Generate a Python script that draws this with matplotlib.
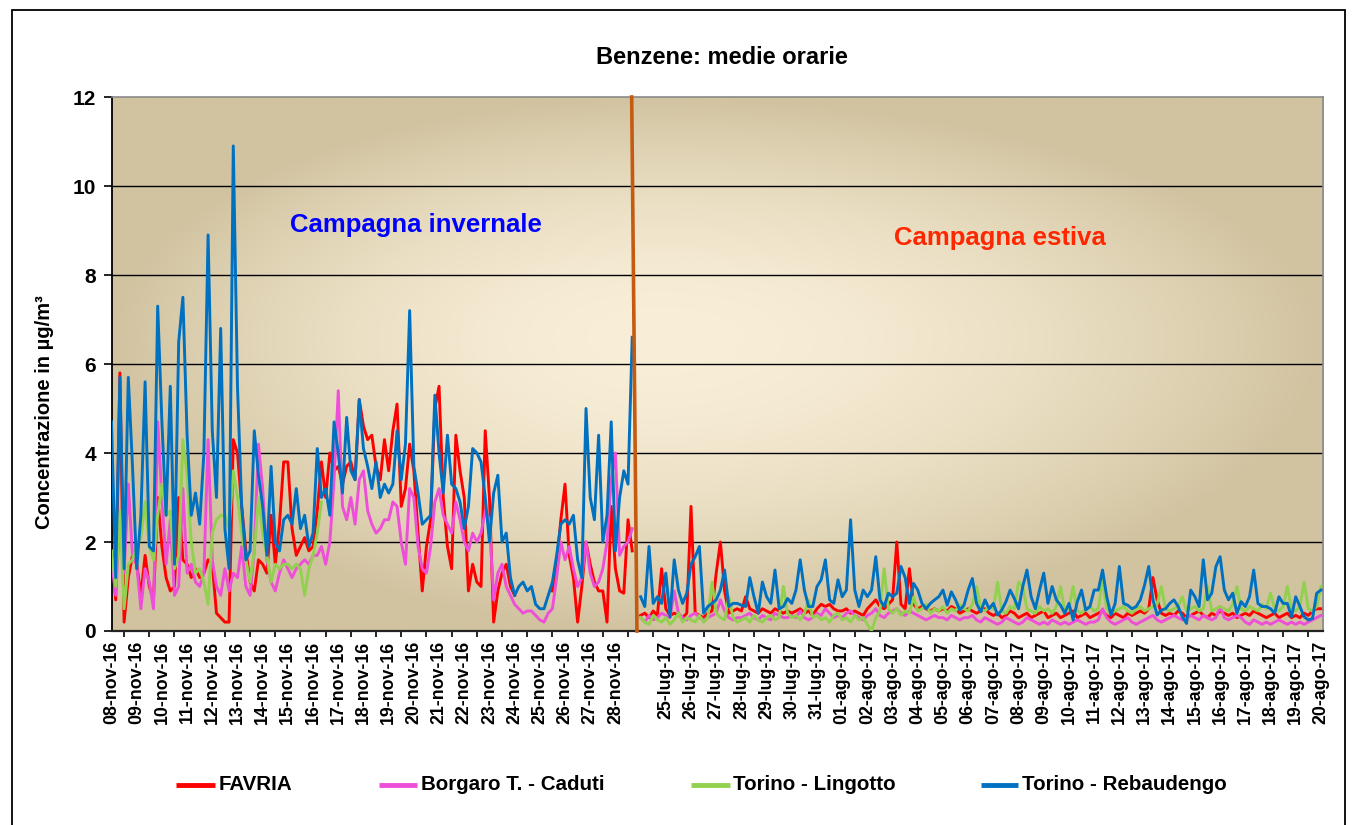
import numpy as np
import matplotlib
matplotlib.use('Agg')
import matplotlib.pyplot as plt
from matplotlib.lines import Line2D
from matplotlib.patches import Rectangle

plt.rcParams['font.family'] = ['Liberation Sans', 'DejaVu Sans']

nan = np.nan

# ---------------- data (4-hour samples) ----------------
STEP_H = 4            # hours between samples
SUMMER_START_H = 504  # category index where the summer campaign starts
X_MAX_H = 1154

series_names = ['FAVRIA', 'Borgaro T. - Caduti', 'Torino - Lingotto', 'Torino - Rebaudengo']

winter_labels = ['08-nov-16', '09-nov-16', '10-nov-16', '11-nov-16', '12-nov-16', '13-nov-16',
                 '14-nov-16', '15-nov-16', '16-nov-16', '17-nov-16', '18-nov-16', '19-nov-16',
                 '20-nov-16', '21-nov-16', '22-nov-16', '23-nov-16', '24-nov-16', '25-nov-16',
                 '26-nov-16', '27-nov-16', '28-nov-16']
summer_labels = ['25-lug-17', '26-lug-17', '27-lug-17', '28-lug-17', '29-lug-17', '30-lug-17',
                 '31-lug-17', '01-ago-17', '02-ago-17', '03-ago-17', '04-ago-17', '05-ago-17',
                 '06-ago-17', '07-ago-17', '08-ago-17', '09-ago-17', '10-ago-17', '11-ago-17',
                 '12-ago-17', '13-ago-17', '14-ago-17', '15-ago-17', '16-ago-17', '17-ago-17',
                 '18-ago-17', '19-ago-17', '20-ago-17']

winter_favria = [
    1.9, 0.7, 5.8, 0.2, 1.2, 1.7,
    1.5, 0.8, 1.7, 1.0, 0.7, 3.0,
    1.9, 1.2, 0.9, 1.0, 3.0, 1.6,
    1.5, 1.2, 1.4, 1.2, 1.3, 1.6,
    1.5, 0.4, 0.3, 0.2, 0.2, 4.3,
    4.0, 2.8, 1.8, 1.1, 0.9, 1.6,
    1.5, 1.3, 2.6, 1.5, 2.4, 3.8,
    3.8, 2.3, 1.7, 1.9, 2.1, 1.8,
    1.9, 2.7, 3.8, 3.0, 4.0, 3.6,
    3.7, 3.3, 3.7, 3.8, 3.4, 5.2,
    4.6, 4.3, 4.4, 3.7, 3.4, 4.3,
    3.6, 4.5, 5.1, 2.8, 3.2, 4.2,
    3.6, 2.2, 0.9, 1.9, 2.5, 5.0,
    5.5, 3.0, 1.9, 1.4, 4.4, 3.6,
    3.0, 0.9, 1.5, 1.1, 1.0, 4.5,
    3.0, 0.2, 0.9, 1.3, 1.5, 1.0,
    0.8, nan, nan, nan, nan, nan,
    nan, nan, nan, 0.9, 1.5, 2.5,
    3.3, 1.7, 1.2, 0.2, 1.0, 2.0,
    1.5, 1.1, 0.9, 0.9, 0.2, 2.8,
    1.4, 0.9, 0.85, 2.5, 1.8]

winter_borgaro = [
    1.6, 0.8, 2.6, 1.3, 3.3, 1.7,
    1.5, 0.5, 1.4, 1.1, 0.5, 4.7,
    3.0, 1.5, 2.5, 0.8, 1.0, 3.2,
    1.3, 1.5, 1.1, 1.0, 1.3, 4.3,
    1.6, 1.0, 0.8, 1.4, 0.9, 1.3,
    1.2, 1.9, 1.0, 0.8, 1.8, 4.2,
    3.2, 1.6, 1.1, 0.9, 1.3, 1.6,
    1.4, 1.2, 1.4, 1.5, 1.6, 1.5,
    1.7, 1.7, 1.9, 1.5, 2.0, 3.4,
    5.4, 2.8, 2.5, 3.0, 2.4, 3.4,
    3.6, 2.7, 2.4, 2.2, 2.3, 2.5,
    2.5, 2.9, 2.8, 2.0, 1.5, 3.2,
    3.0, 1.9, 1.4, 1.3, 1.9, 2.9,
    3.2, 2.6, 2.4, 2.2, 2.9, 2.5,
    2.0, 1.8, 2.2, 2.0, 2.2, 2.7,
    2.5, 0.7, 1.3, 1.5, 1.0, 0.8,
    0.6, 0.5, 0.4, 0.45, 0.45, 0.35,
    0.25, 0.2, 0.4, 0.5, 1.2, 2.0,
    1.6, 1.9, 1.4, 1.0, 1.2, 2.0,
    1.3, 1.0, 1.1, 1.4, 2.0, 3.4,
    4.0, 1.7, 1.9, 2.0, 2.3]

winter_lingotto = [
    1.8, 1.0, 2.7, 0.5, 1.5, 1.6,
    1.9, 2.1, 2.9, 1.9, 1.6, 2.6,
    3.3, 2.6, 2.7, 1.4, 1.7, 4.3,
    3.5, 2.0, 1.3, 1.4, 1.1, 0.6,
    2.2, 2.5, 2.6, 2.6, 2.3, 3.6,
    3.0, 2.2, 1.6, 1.1, 1.8, 3.0,
    2.2, 1.7, 1.1, 1.5, 1.4, 1.5,
    1.5, 1.4, 1.5, 1.4, 0.8, 1.4,
    1.7, 2.2, 2.9]

winter_rebaudengo = [
    4.7, 1.2, 5.7, 1.4, 5.7, 3.7,
    1.4, 2.6, 5.6, 1.9, 1.8, 7.3,
    4.7, 2.6, 5.5, 1.5, 6.5, 7.5,
    4.4, 2.6, 3.1, 2.4, 4.0, 8.9,
    4.5, 3.0, 6.8, 2.3, 1.4, 10.9,
    5.5, 2.8, 1.6, 1.8, 4.5, 3.5,
    2.8, 1.7, 3.7, 2.0, 1.8, 2.5,
    2.6, 2.4, 3.2, 2.3, 2.6, 1.9,
    2.2, 4.1, 3.0, 3.2, 2.6, 4.7,
    4.0, 3.1, 4.8, 3.6, 3.4, 5.2,
    4.1, 3.7, 3.2, 3.8, 3.0, 3.3,
    3.1, 3.3, 4.5, 3.4, 4.2, 7.2,
    3.7, 3.1, 2.4, 2.5, 2.6, 5.3,
    4.0, 3.1, 4.4, 3.3, 3.2, 2.9,
    2.3, 2.8, 4.1, 4.0, 3.8, 3.0,
    2.0, 3.1, 3.5, 2.0, 2.2, 1.2,
    0.8, 1.0, 1.1, 0.9, 1.0, 0.6,
    0.5, 0.5, 0.8, 1.1, 1.7, 2.4,
    2.5, 2.4, 2.6, 1.6, 1.2, 5.0,
    3.0, 2.5, 4.4, 2.0, 2.6, 4.7,
    1.8, 3.0, 3.6, 3.3, 6.6]

summer_favria = [
    0.35, 0.4, 0.3, 0.45, 0.35, 1.4,
    0.5, 0.35, 0.4, 0.35, 0.3, 0.4,
    2.8, 0.4, 0.35, 0.3, 0.4, 0.45,
    1.3, 2.0, 0.9, 0.4, 0.45, 0.5,
    0.45, 0.77, 0.5, 0.45, 0.4, 0.5,
    0.45, 0.4, 0.5, 0.45, 0.4, 0.45,
    0.4, 0.45, 0.5, 0.4, 0.45, 0.35,
    0.5, 0.6, 0.55, 0.6, 0.5, 0.45,
    0.45, 0.5, 0.4, 0.45, 0.4, 0.35,
    0.5, 0.6, 0.7, 0.55, 0.5, 0.6,
    0.7, 2.0, 0.6, 0.5, 1.4, 0.6,
    0.5, 0.55, 0.5, 0.45, 0.5, 0.45,
    0.5, 0.45, 0.55, 0.5, 0.4, 0.45,
    0.5, 0.45, 0.4, 0.45, 0.5, 0.4,
    0.35, 0.4, 0.3, 0.35, 0.45, 0.4,
    0.3, 0.35, 0.4, 0.3, 0.35, 0.4,
    0.45, 0.3, 0.35, 0.4, 0.3, 0.35,
    0.4, 0.45, 0.3, 0.35, 0.4, 0.3,
    0.35, 0.4, 0.45, 0.35, 0.3, 0.4,
    0.35, 0.3, 0.4, 0.35, 0.4, 0.45,
    0.4, 0.5, 1.2, 0.7, 0.4, 0.35,
    0.4, 0.35, 0.45, 0.4, 0.3, 0.35,
    0.4, 0.45, 0.35, 0.3, 0.4, 0.35,
    0.45, 0.4, 0.35, 0.4, 0.3, 0.35,
    0.4, 0.35, 0.45, 0.4, 0.35, 0.3,
    0.35, 0.4, 0.3, 0.35, 0.4, 0.3,
    0.35, 0.3, 0.4, 0.35, 0.45, 0.5,
    0.5]

summer_borgaro = [
    0.3, 0.2, 0.35, 0.25, 0.3, 0.4,
    0.35, 0.3, 0.9, 0.4, 0.3, 0.25,
    0.35, 0.4, 0.3, 0.25, 0.3, 0.35,
    0.4, 0.7, 0.45, 0.3, 0.25, 0.3,
    0.3, 0.35, 0.4, 0.3, 0.25, 0.35,
    0.3, 0.25, 0.4, 0.35, 0.3, 0.3,
    0.35, 0.3, 0.45, 0.3, 0.25, 0.3,
    0.4, 0.35, 0.5, 0.4, 0.3, 0.35,
    0.3, 0.4, 0.45, 0.35, 0.3, 0.25,
    0.35, 0.4, 0.5, 0.35, 0.3, 0.4,
    0.45, 0.5, 0.4, 0.35, 0.45, 0.4,
    0.35, 0.3, 0.25, 0.3, 0.35, 0.3,
    0.3, 0.25, 0.35, 0.3, 0.25, 0.3,
    0.3, 0.35, 0.25, 0.2, 0.3, 0.25,
    0.2, 0.15, 0.2, 0.3, 0.25, 0.2,
    0.15, 0.2, 0.3, 0.25, 0.2, 0.15,
    0.2, 0.15, 0.25, 0.2, 0.15, 0.2,
    0.15, 0.2, 0.25, 0.2, 0.15, 0.2,
    0.2, 0.25, 0.5, 0.3, 0.2, 0.15,
    0.2, 0.25, 0.3, 0.2, 0.15, 0.2,
    0.25, 0.3, 0.35, 0.25, 0.2, 0.25,
    0.3, 0.35, 0.3, 0.25, 0.3, 0.35,
    0.3, 0.25, 0.35, 0.3, 0.25, 0.3,
    0.55, 0.3, 0.25, 0.3, 0.35, 0.3,
    0.2, 0.15, 0.25, 0.2, 0.15, 0.2,
    0.15, 0.2, 0.25, 0.2, 0.15, 0.2,
    0.15, 0.2, 0.15, 0.2, 0.25, 0.3,
    0.35]

summer_lingotto = [
    0.3, 0.2, 0.15, 0.35, 0.25, 0.2,
    0.3, 0.15, 0.25, 0.4, 0.2, 0.3,
    0.25, 0.2, 0.35, 0.2, 0.3, 1.1,
    0.4, 0.3, 0.25, 0.77, 0.3, 0.2,
    0.25, 0.3, 0.2, 0.35, 0.25, 0.2,
    0.3, 0.35, 0.25, 0.3, 1.0, 0.4,
    0.3, 0.35, 0.25, 0.4, 0.7, 0.3,
    0.35, 0.25, 0.3, 0.2, 0.35, 0.4,
    0.25, 0.3, 0.2, 0.35, 0.25, 0.3,
    0.15, 0.0, 0.3, 0.45, 1.4, 0.5,
    0.4, 0.5, 0.35, 0.45, 0.4, 0.77,
    0.45, 0.5, 0.6, 0.4, 0.5, 0.45,
    0.55, 0.4, 0.5, 0.45, 0.6, 0.5,
    0.45, 0.6, 1.0, 0.5, 0.45, 0.55,
    0.5, 1.1, 0.45, 0.4, 0.55, 0.5,
    1.1, 1.0, 0.5, 0.45, 0.4, 0.55,
    0.45, 0.5, 0.4, 0.55, 1.0, 0.45,
    0.5, 1.0, 0.45, 0.4, 0.5, 0.55,
    0.45, 0.5, 1.15, 0.5, 0.4, 0.45,
    0.5, 0.55, 0.45, 0.4, 0.5, 0.55,
    0.45, 0.5, 0.55, 0.6, 1.0, 0.5,
    0.45, 0.5, 0.55, 0.77, 0.45, 0.5,
    0.55, 0.45, 0.5, 1.0, 0.45, 0.5,
    0.55, 0.5, 0.45, 0.6, 1.0, 0.5,
    0.45, 0.55, 0.5, 0.45, 0.6, 0.5,
    0.85, 0.5, 0.45, 0.55, 1.0, 0.5,
    0.45, 0.55, 1.1, 0.5, 0.45, 0.55,
    1.0]

summer_rebaudengo = [
    0.77, 0.55, 1.9, 0.62, 0.77, 0.62,
    1.3, 0.32, 1.6, 0.92, 0.62, 0.85,
    1.5, 1.67, 1.9, 0.4, 0.55, 0.62,
    0.7, 0.92, 1.37, 0.55, 0.62, 0.62,
    0.58, 0.55, 1.2, 0.77, 0.4, 1.1,
    0.77, 0.62, 1.37, 0.5, 0.55, 0.73,
    0.62, 0.92, 1.6, 0.92, 0.55, 0.55,
    1.0, 1.15, 1.6, 0.7, 0.62, 1.15,
    0.77, 0.92, 2.5, 0.92, 0.55, 0.92,
    0.77, 0.92, 1.67, 0.7, 0.55, 0.85,
    0.77, 0.85, 1.45, 1.2, 0.62, 1.07,
    0.92, 0.62, 0.5, 0.62, 0.7, 0.77,
    0.92, 0.58, 0.88, 0.7, 0.47, 0.58,
    0.92, 1.18, 0.62, 0.43, 0.7, 0.5,
    0.62, 0.36, 0.47, 0.66, 0.92, 0.73,
    0.5, 1.0, 1.37, 0.77, 0.5, 0.92,
    1.3, 0.62, 1.0, 0.7, 0.58, 0.4,
    0.62, 0.25, 0.66, 0.92, 0.47, 0.55,
    0.92, 0.92, 1.37, 0.77, 0.36, 0.62,
    1.45, 0.62, 0.58, 0.5, 0.55, 0.7,
    1.03, 1.45, 0.7, 0.36, 0.47, 0.5,
    0.62, 0.7, 0.55, 0.32, 0.17, 0.92,
    0.77, 0.55, 1.6, 0.7, 0.85, 1.45,
    1.67, 0.92, 0.7, 0.85, 0.4, 0.66,
    0.55, 0.77, 1.37, 0.62, 0.55, 0.55,
    0.5, 0.4, 0.77, 0.62, 0.62, 0.32,
    0.77, 0.55, 0.32, 0.25, 0.28, 0.85,
    0.92]

# separator drawn by hand on the original chart (category index at top / bottom)
SEP_TOP_H, SEP_BOTTOM_H = 495.5, 500.5

# ---------------- figure ----------------
W, H = 1355, 825
fig = plt.figure(figsize=(W / 100, H / 100), dpi=100)
fig.patch.set_facecolor('white')

ax_l, ax_r, ax_t, ax_b = 111.5, 1323, 97, 631
ax = fig.add_axes([ax_l / W, 1 - ax_b / H, (ax_r - ax_l) / W, (ax_b - ax_t) / H])
ax.set_xlim(0, X_MAX_H)
ax.set_ylim(0, 12)

# gradient background
nx, ny = 600, 300
gx, gy = np.meshgrid(np.linspace(0, 1, nx), np.linspace(0, 1, ny))
cx, cy = 0.45, 0.55
u = np.where(gx < cx, (gx - cx) / cx, (gx - cx) / (1 - cx))
v = np.where(gy < cy, (gy - cy) / cy, (gy - cy) / (1 - cy))
t = np.clip(np.sqrt(u ** 2 + v ** 2), 0, 1) ** 1.8
c_center = np.array([249, 239, 216]) / 255.0
c_edge = np.array([209, 195, 160]) / 255.0
img = c_center[None, None, :] * (1 - t[..., None]) + c_edge[None, None, :] * t[..., None]
ax.imshow(img, extent=[0, X_MAX_H, 0, 12], origin='lower', aspect='auto',
          interpolation='bilinear', zorder=0)

for gyv in [2, 4, 6, 8, 10]:
    ax.axhline(gyv, color='black', lw=1.0, zorder=1)

colors = ['#FF0000', '#EE4FD8', '#92D050', '#0070C0']
winter = [winter_favria, winter_borgaro, winter_lingotto, winter_rebaudengo]
summer = [summer_favria, summer_borgaro, summer_lingotto, summer_rebaudengo]
for i in range(4):
    wv = np.array(winter[i], dtype=float)
    sv = np.array(summer[i], dtype=float)
    ax.plot(STEP_H * np.arange(len(wv)), wv, color=colors[i], lw=2.1, zorder=2 + i,
            solid_joinstyle='round')
    ax.plot(SUMMER_START_H + STEP_H * np.arange(len(sv)), sv, color=colors[i], lw=2.1,
            zorder=2 + i, solid_joinstyle='round')

ax.plot([SEP_TOP_H, SEP_BOTTOM_H], [12, 0], color='#C55A11', lw=2.6, zorder=8, clip_on=False)

# axes / ticks
ax.set_yticks(range(0, 13, 2))
ax.tick_params(axis='y', direction='out', length=6, width=1.2, pad=5, labelsize=15)
for lab in ax.get_yticklabels():
    lab.set_fontweight('bold')

label_pos = [24 * i for i in range(len(winter_labels))] + [SUMMER_START_H] + \
            [SUMMER_START_H + 24 * (i + 1) for i in range(len(summer_labels))]
label_txt = winter_labels + [''] + summer_labels
ax.set_xticks(label_pos)
ax.set_xticklabels(label_txt, rotation=90, fontsize=12.8, fontweight='bold')
ax.tick_params(axis='x', which='major', length=0, pad=7)
ax.set_xticks([12 + 24 * k for k in range(48)], minor=True)
ax.tick_params(axis='x', which='minor', direction='out', length=4, width=1.2)

ax.spines['left'].set_color('black')
ax.spines['left'].set_linewidth(1.3)
ax.spines['bottom'].set_color('#222222')
ax.spines['bottom'].set_linewidth(1.6)
for s in ['top', 'right']:
    ax.spines[s].set_color('#8a8a8a')
    ax.spines[s].set_linewidth(1.2)

# texts
fig.text(722 / W, 1 - 57 / H, 'Benzene: medie orarie', ha='center', va='center',
         fontsize=17, fontweight='bold')
fig.text(45 / W, 1 - 412 / H, 'Concentrazione in µg/m³', ha='center', va='center',
         rotation=90, fontsize=14.5, fontweight='bold')
fig.text(416 / W, 1 - 225 / H, 'Campagna invernale', ha='center', va='center',
         fontsize=18.5, fontweight='bold', color='#0000FF')
fig.text(1000 / W, 1 - 238 / H, 'Campagna estiva', ha='center', va='center',
         fontsize=18.5, fontweight='bold', color='#FF2600')

# legend (manual)
leg_y = 1 - 785 / H
leg_items = [(176, 215, 219), (379, 417, 421), (691, 730, 733), (981, 1018, 1022)]
for (x0, x1, xt), name, c in zip(leg_items, series_names, colors):
    fig.add_artist(Line2D([x0 / W, x1 / W], [leg_y, leg_y], transform=fig.transFigure,
                          color=c, lw=3.5, solid_capstyle='butt'))
    fig.text(xt / W, leg_y, name, ha='left', va='center', fontsize=14.8, fontweight='bold')

# outer chart border
fig.add_artist(Rectangle((12 / W, -0.02), 1333 / W, (H - 10) / H + 0.02,
                         transform=fig.transFigure, fill=False, ec='black', lw=1.3))

fig.savefig('out.png', dpi=100, facecolor='white')
